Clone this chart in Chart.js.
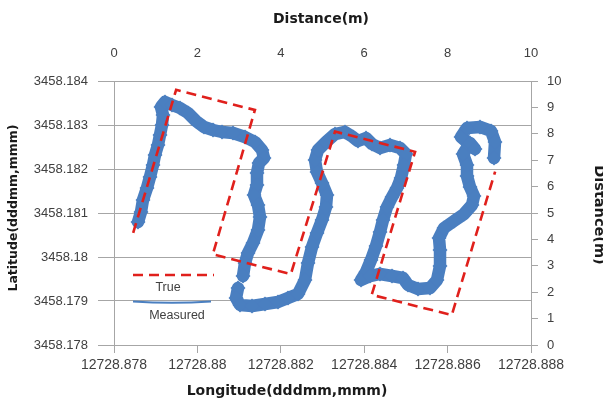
<!DOCTYPE html>
<html>
<head>
<meta charset="utf-8">
<script src="https://cdn.jsdelivr.net/npm/chart.js@4.4.1/dist/chart.umd.min.js"></script>
<style>
html,body{margin:0;padding:0;background:#fff;}
#wrap{width:603px;height:413px;}
</style>
</head>
<body>
<div id="wrap"><canvas id="c" width="603" height="413"></canvas></div>
<script>
// ---- axis ticks ----
const lonTicks = [12728.878, 12728.880, 12728.882, 12728.884, 12728.886, 12728.888];
const lonTickLabels = ['12728.878', '12728.88', '12728.882', '12728.884', '12728.886', '12728.888'];
const latTicks = [3458.178, 3458.179, 3458.180, 3458.181, 3458.182, 3458.183, 3458.184];
const latTickLabels = ['3458.178', '3458.179', '3458.18', '3458.181', '3458.182', '3458.183', '3458.184'];
const distTopTicks = [0, 2, 4, 6, 8, 10];
const distRightTicks = [0, 1, 2, 3, 4, 5, 6, 7, 8, 9, 10];

// ---- series: True path ----
const trueLon = [12728.87846, 12728.87949, 12728.88138, 12728.88037, 12728.88224, 12728.88330, 12728.88522, 12728.88418, 12728.88610, 12728.88714];
const trueLat = [3458.18055, 3458.18380, 3458.18334, 3458.18006, 3458.17961, 3458.18285, 3458.18239, 3458.17914, 3458.17868, 3458.18194];

// ---- series: Measured path (null = break in the track) ----
const measLon = [
 12728.878576, 12728.878647, 12728.878695, 12728.878791, 12728.878863, 12728.878935, 12728.878983, 12728.879055,
 12728.879103, 12728.879151, 12728.879175, 12728.879127, 12728.879223, 12728.879391, 12728.879583, 12728.879775,
 12728.879966, 12728.880158, 12728.880374, 12728.880590, 12728.880854, 12728.881141, 12728.881381, 12728.881549,
 12728.881597, 12728.881477, 12728.881429, 12728.881429, 12728.881357, 12728.881453, 12728.881501, 12728.881453,
 12728.881333, 12728.881213, 12728.881141, 12728.881094, null,
 12728.880974, 12728.880926, 12728.881022, 12728.881309, 12728.881621, 12728.881933, 12728.882173, 12728.882412,
 12728.882580, 12728.882652, 12728.882748, 12728.882868, 12728.882988, 12728.883084, 12728.883108, 12728.882988,
 12728.882868, 12728.882820, 12728.882892, 12728.883084, 12728.883300, 12728.883540, 12728.883731, 12728.883851,
 12728.884043, 12728.884187, 12728.884379, 12728.884619, 12728.884859, 12728.885002, 12728.884954, 12728.884882,
 12728.884787, 12728.884667, 12728.884547, 12728.884451, 12728.884379, 12728.884283, 12728.884163, 12728.884043,
 12728.883923, 12728.884139, 12728.884379, 12728.884667, 12728.884930, 12728.885050, 12728.885290, 12728.885578,
 12728.885746, 12728.885818, 12728.885818, 12728.885794, 12728.885914, 12728.886153, 12728.886393, 12728.886585,
 12728.886633, 12728.886537, 12728.886465, 12728.886465, 12728.886369, 12728.886537, 12728.886657, 12728.886321,
 12728.886465, 12728.886777, 12728.887041, 12728.887137, 12728.887113
];
const measLat = [
 3458.180795, 3458.181023, 3458.181295, 3458.181568, 3458.181818, 3458.182091, 3458.182318, 3458.182545,
 3458.182773, 3458.183000, 3458.183227, 3458.183409, 3458.183523, 3458.183455, 3458.183386, 3458.183273,
 3458.183091, 3458.182955, 3458.182886, 3458.182841, 3458.182818, 3458.182727, 3458.182614, 3458.182432,
 3458.182250, 3458.182136, 3458.181909, 3458.181636, 3458.181409, 3458.181182, 3458.180909, 3458.180614,
 3458.180318, 3458.180091, 3458.179864, 3458.179568, null,
 3458.179295, 3458.179068, 3458.178909, 3458.178886, 3458.178932, 3458.178977, 3458.179068, 3458.179159,
 3458.179477, 3458.179864, 3458.180227, 3458.180545, 3458.180841, 3458.181136, 3458.181409, 3458.181682,
 3458.181932, 3458.182205, 3458.182432, 3458.182614, 3458.182795, 3458.182841, 3458.182727, 3458.182636,
 3458.182705, 3458.182568, 3458.182477, 3458.182545, 3458.182477, 3458.182341, 3458.182091, 3458.181795,
 3458.181568, 3458.181364, 3458.181136, 3458.180841, 3458.180568, 3458.180250, 3458.179932, 3458.179659,
 3458.179477, 3458.179568, 3458.179614, 3458.179568, 3458.179523, 3458.179364, 3458.179273, 3458.179295,
 3458.179477, 3458.179795, 3458.180159, 3458.180432, 3458.180659, 3458.180818, 3458.180977, 3458.181182,
 3458.181386, 3458.181591, 3458.181841, 3458.182091, 3458.182341, 3458.182591, 3458.182455, 3458.182727,
 3458.182932, 3458.182955, 3458.182864, 3458.182614, 3458.182250
];

const axisTitles = {
  top: 'Distance(m)',
  bottom: 'Longitude(dddmm,mmm)',
  left: 'Latitude(dddmm,mmm)',
  right: 'Distance(m)'
};

const RED = '#e0201c';
const BLUE = '#4a7fc0';
const GRID = '#a6a6a6';
const TXT = '#404040';

const truePts = trueLon.map((v, i) => ({x: v, y: trueLat[i]}));
const measPts = measLon.map((v, i) => ({x: v, y: measLat[i]}));

function fixTicks(values) {
  return function(scale) { scale.ticks = values.map(v => ({value: v})); };
}

const textPlugin = {
  id: 'texts',
  afterDraw(chart) {
    const ctx = chart.ctx;
    ctx.save();
    ctx.fillStyle = '#1a1a1a';
    ctx.textAlign = 'center';
    ctx.textBaseline = 'middle';
    ctx.font = 'bold 14px "DejaVu Sans"';
    ctx.fillText(axisTitles.top, 321, 19);
    ctx.fillText(axisTitles.bottom, 287, 391);
    ctx.save();
    ctx.translate(14, 208);
    ctx.rotate(-Math.PI / 2);
    ctx.font = 'bold 12.5px "DejaVu Sans"';
    ctx.fillText(axisTitles.left, 0, 0);
    ctx.restore();
    ctx.save();
    ctx.translate(599, 215);
    ctx.rotate(Math.PI / 2);
    ctx.font = 'bold 14.5px "DejaVu Sans"';
    ctx.fillText(axisTitles.right, 0, 0);
    ctx.restore();

    // legend (sample line above label)
    const ds = chart.data.datasets;
    ctx.lineCap = 'butt';
    ctx.strokeStyle = RED;
    ctx.lineWidth = 2.5;
    ctx.setLineDash([10, 6]);
    ctx.beginPath(); ctx.moveTo(133, 275); ctx.lineTo(214, 275); ctx.stroke();
    ctx.setLineDash([]);
    ctx.strokeStyle = BLUE;
    ctx.lineWidth = 1.8;
    ctx.beginPath(); ctx.moveTo(133, 301.5); ctx.quadraticCurveTo(172, 304, 211, 301.5); ctx.stroke();
    ctx.fillStyle = TXT;
    ctx.font = '12.5px "Liberation Sans"';
    ctx.fillText(ds[0].label, 168, 288);
    ctx.fillText(ds[1].label, 177, 316);
    ctx.restore();
  }
};

new Chart(document.getElementById('c'), {
  type: 'scatter',
  data: {
    datasets: [
      {
        label: 'True',
        data: truePts,
        showLine: true,
        borderColor: RED,
        borderWidth: 2.6,
        borderDash: [10, 6],
        pointRadius: 0,
        fill: false,
        xAxisID: 'x', yAxisID: 'y'
      },
      {
        label: 'Measured',
        data: measPts,
        showLine: true,
        spanGaps: false,
        borderColor: BLUE,
        borderWidth: 12.5,
        borderJoinStyle: 'round',
        borderCapStyle: 'round',
        pointStyle: 'rectRot',
        pointRadius: 7.5,
        pointBackgroundColor: BLUE,
        pointBorderColor: BLUE,
        pointBorderWidth: 0,
        fill: false,
        xAxisID: 'x', yAxisID: 'y'
      }
    ]
  },
  options: {
    responsive: false,
    animation: false,
    devicePixelRatio: 1,
    layout: { padding: 0 },
    plugins: { legend: { display: false }, tooltip: { enabled: false } },
    scales: {
      x: {
        type: 'linear', position: 'bottom',
        min: lonTicks[0], max: lonTicks[lonTicks.length - 1],
        afterBuildTicks: fixTicks(lonTicks),
        afterFit(s) { s.height = 68; },
        grid: { drawOnChartArea: false, drawTicks: true, tickLength: 8, color: GRID, tickColor: GRID },
        border: { display: true, color: GRID, width: 1 },
        ticks: {
          autoSkip: false, maxRotation: 0, padding: 4, color: TXT,
          font: { family: '"Liberation Sans"', size: 14 },
          callback: (v, i) => lonTickLabels[i]
        }
      },
      y: {
        type: 'linear', position: 'left',
        min: latTicks[0], max: latTicks[latTicks.length - 1],
        afterBuildTicks: fixTicks(latTicks),
        afterFit(s) { s.width = 114; },
        grid: { drawOnChartArea: true, drawTicks: true, tickLength: 16, color: GRID, tickColor: GRID, lineWidth: 1 },
        border: { display: true, color: GRID, width: 1 },
        ticks: {
          autoSkip: false, padding: 10, color: TXT,
          font: { family: '"Liberation Sans"', size: 13 },
          callback: (v, i) => latTickLabels[i]
        }
      },
      x2: {
        type: 'linear', position: 'top',
        min: 0, max: 10,
        afterBuildTicks: fixTicks(distTopTicks),
        afterFit(s) { s.height = 81; },
        grid: { display: false, drawTicks: false, drawOnChartArea: false },
        border: { display: false },
        ticks: {
          autoSkip: false, maxRotation: 0, padding: 20, color: TXT,
          font: { family: '"Liberation Sans"', size: 13 },
          callback: (v, i) => String(distTopTicks[i])
        }
      },
      y2: {
        type: 'linear', position: 'right',
        min: 0, max: 10,
        afterBuildTicks: fixTicks(distRightTicks),
        afterFit(s) { s.width = 72; },
        grid: { drawOnChartArea: false, drawTicks: true, tickLength: 7, color: GRID, tickColor: GRID },
        border: { display: true, color: GRID, width: 1 },
        ticks: {
          autoSkip: false, padding: 9, color: TXT,
          font: { family: '"Liberation Sans"', size: 13 },
          callback: (v, i) => String(distRightTicks[i])
        }
      }
    }
  },
  plugins: [textPlugin]
});
</script>
</body>
</html>
